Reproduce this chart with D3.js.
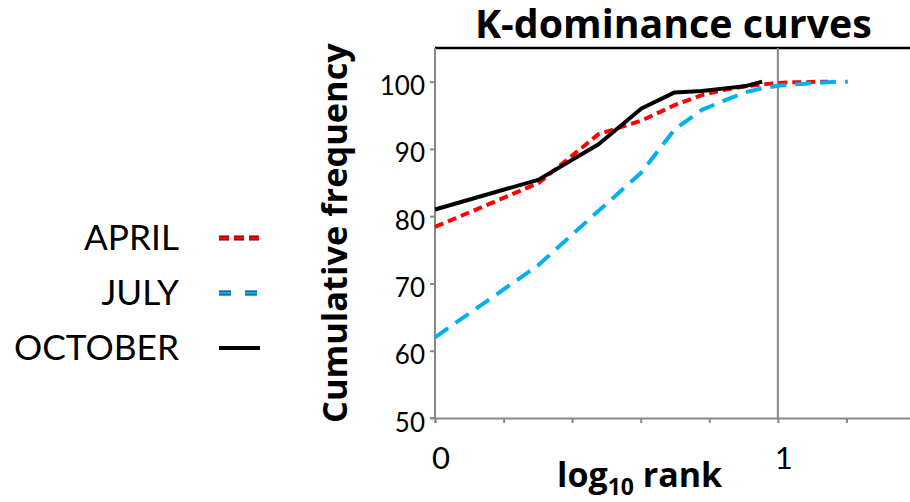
<!DOCTYPE html>
<html>
<head>
<meta charset="utf-8">
<script src="https://cdn.jsdelivr.net/npm/d3@7"></script>
<style>
  body { margin: 0; background: #fff; }
  svg { display: block; font-family: Lato, "Open Sans", sans-serif; }
</style>
</head>
<body>
<div id="chart"></div>
<script>
// ranks 1..n, plotted on log10 scale
const aprilValues = [78.4, 84.9, 92.2, 94.2, 96.5, 98.0, 98.8, 99.3, 99.6, 99.8, 99.9, 99.9, 100, 100];
const julyValues = [62.0, 72.7, 80.8, 86.5, 92.9, 95.8, 97.2, 98.4, 99.0, 99.4, 99.6, 99.7, 99.8, 99.9, 100, 100];
const octoberValues = [81.0, 85.4, 90.7, 96.0, 98.4, 98.6, 99.0, 99.3, 100];
const seriesNames = ["APRIL", "JULY", "OCTOBER"];
const yTicks = [50, 60, 70, 80, 90, 100];
const xTickLabels = [0, 1];

const toPoints = vals => vals.map((v, i) => ({ x: Math.log10(i + 1), y: v }));
const series = [
    { name: seriesNames[0], data: toPoints(aprilValues), color: "#ff0000", dash: "9,5", legendDash: "10,5", outline: "#600" },
    { name: seriesNames[1], data: toPoints(julyValues), color: "#00b0f0", dash: "16,9", legendDash: "12,14", outline: "#035" },
    { name: seriesNames[2], data: toPoints(octoberValues), color: "#000", dash: null, legendDash: null, outline: null }
];

const boldFont = "'Open Sans', Lato, sans-serif";

// scale font-size so the text spans the wanted width
function fitWidth(sel, target) {
    const node = sel.node();
    const w = node.getComputedTextLength();
    const fs = parseFloat(sel.attr("font-size"));
    sel.attr("font-size", fs * target / w);
}

const svg = d3.select("#chart")
    .append("svg")
    .attr("width", 910)
    .attr("height", 502);

const x = d3.scaleLinear().domain([0, 1.4]).range([435, 915]);
const y = d3.scaleLinear().domain([50, 105]).range([418, 48]);

// top border
svg.append("line")
    .attr("x1", x(0)).attr("x2", 910)
    .attr("y1", y(105)).attr("y2", y(105))
    .attr("stroke", "#000").attr("stroke-width", 2.5);

// vertical line at x = 1
svg.append("line")
    .attr("x1", x(1)).attr("x2", x(1))
    .attr("y1", y(105)).attr("y2", y(50))
    .attr("stroke", "#888").attr("stroke-width", 2);

// x axis
const xAxis = svg.append("g")
    .attr("transform", `translate(0,${y(50)})`)
    .call(d3.axisBottom(x).tickValues(d3.range(0, 1.41, 0.2)).tickSize(5).tickFormat(""));
xAxis.select(".domain").attr("stroke", "#888").attr("stroke-width", 2);
xAxis.selectAll(".tick line").attr("stroke", "#888").attr("stroke-width", 2);

svg.selectAll(".xlab")
    .data(xTickLabels)
    .join("text")
    .attr("class", "xlab")
    .attr("x", d => x(d) + 6)
    .attr("y", 469)
    .attr("text-anchor", "middle")
    .attr("font-size", 31)
    .text(d => d);

// y axis
const yAxis = svg.append("g")
    .attr("transform", `translate(${x(0)},0)`)
    .call(d3.axisLeft(y).tickValues(yTicks).tickSize(5).tickPadding(5));
yAxis.select(".domain").attr("stroke", "#888").attr("stroke-width", 2).attr("d", `M-5,${y(50)}H0V${y(105)}`);
yAxis.selectAll(".tick line").attr("stroke", "#888").attr("stroke-width", 2);
yAxis.selectAll(".tick text")
    .attr("font-size", 26)
    .attr("fill", "#000")
    .attr("font-family", "Lato, sans-serif")
    .attr("dy", 13);

// lines
const line = d3.line().x(d => x(d.x)).y(d => y(d.y));
svg.append("g")
    .selectAll("path")
    .data(series)
    .join("path")
    .attr("d", d => line(d.data))
    .attr("fill", "none")
    .attr("stroke", d => d.color)
    .attr("stroke-width", 4)
    .attr("stroke-dasharray", d => d.dash)
    .attr("stroke-linejoin", "round");

// titles
const title = svg.append("text")
    .attr("x", 475)
    .attr("y", 38)
    .attr("font-family", boldFont)
    .attr("font-size", 36)
    .attr("font-weight", "bold")
    .text("K-dominance curves");
fitWidth(title, 397);

const yTitle = svg.append("text")
    .attr("transform", "translate(347,233) rotate(-90)")
    .attr("text-anchor", "middle")
    .attr("font-family", boldFont)
    .attr("font-size", 32)
    .attr("font-weight", "bold")
    .text("Cumulative frequency");
fitWidth(yTitle, 380);

const xTitle = svg.append("text")
    .attr("x", 557)
    .attr("y", 487)
    .attr("font-family", boldFont)
    .attr("font-size", 34)
    .attr("font-weight", "bold");
xTitle.append("tspan").text("log");
xTitle.append("tspan").attr("font-size", 23).attr("dy", 8).text("10");
xTitle.append("tspan").attr("dy", -8).text(" rank");

// legend
const legend = svg.append("g")
    .selectAll("g")
    .data(series)
    .join("g")
    .attr("transform", (d, i) => `translate(0,${238 + i * 55})`);

const legendText = legend.append("text")
    .attr("x", 179)
    .attr("y", 12)
    .attr("text-anchor", "end")
    .attr("font-size", 36)
    .text(d => d.name);

// size all legend labels from the longest one
const octNode = legendText.filter(d => d.name === "OCTOBER");
fitWidth(octNode, 165);
legendText.attr("font-size", octNode.attr("font-size"));

legend.filter(d => d.outline)
    .append("line")
    .attr("x1", 219).attr("x2", 260)
    .attr("stroke", d => d.outline)
    .attr("stroke-width", 5)
    .attr("stroke-dasharray", d => d.legendDash);

legend.append("line")
    .attr("x1", 219).attr("x2", 260)
    .attr("stroke", d => d.color)
    .attr("stroke-width", d => d.outline ? 3 : 4)
    .attr("stroke-dasharray", d => d.legendDash);
</script>
</body>
</html>
